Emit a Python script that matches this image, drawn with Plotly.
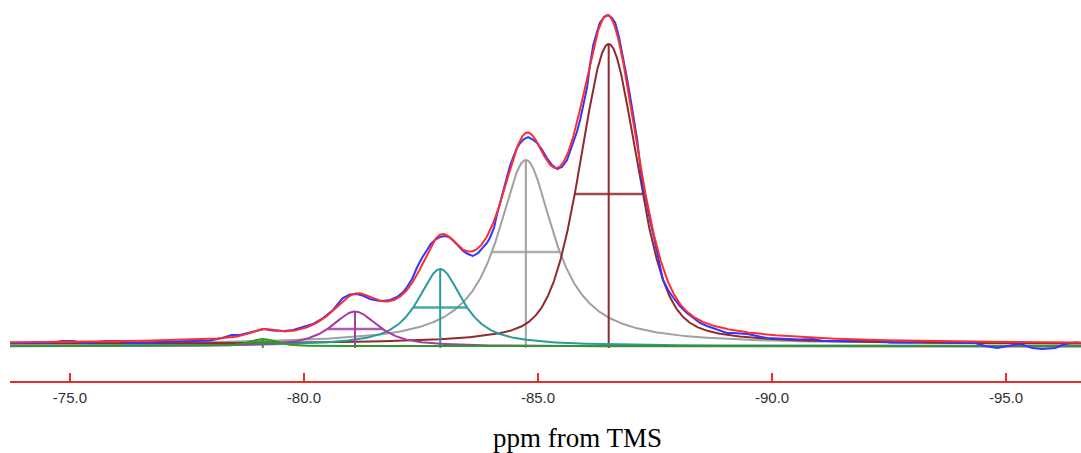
import numpy as np
import plotly.graph_objects as go

# ---------------- data ----------------
# Fitted components (ppm from TMS, intensity in arbitrary units)
peak_centers = [-79.12, -81.09, -82.91, -84.74, -86.51]
peak_heights = [7, 35, 77, 184, 300]
peak_fwhm = [0.64, 1.18, 1.15, 1.45, 1.45]
peak_lorentz_frac = [0.5, 0.8, 0.9, 1.0, 0.4]
peak_baseline = [-2.0, -2.5, -2.0, 0.0, 0.0]
peak_colors = ["#2e9a2e", "#a43ea4", "#2b9a9a", "#a0a0a0", "#8e2b2b"]

# Experimental spectrum (blue)
exp_ppm = [-73.72, -74.57, -74.83, -75.06, -75.32, -75.81, -76.03, -76.24, -76.92, -77.52,
           -77.99, -78.25, -78.46, -78.63, -78.80, -79.00, -79.15, -79.32, -79.59, -79.77,
           -79.91, -80.19, -80.41, -80.62, -80.83, -80.98, -81.13, -81.28, -81.41, -81.56,
           -81.69, -81.84, -81.99, -82.12, -82.20, -82.31, -82.41, -82.52, -82.63, -82.71,
           -82.80, -82.91, -83.01, -83.10, -83.18, -83.29, -83.40, -83.50, -83.61, -83.72,
           -83.82, -83.91, -83.97, -84.06, -84.12, -84.23, -84.34, -84.40, -84.47, -84.55,
           -84.62, -84.70, -84.79, -84.87, -84.98, -85.09, -85.19, -85.30, -85.41, -85.51,
           -85.62, -85.68, -85.75, -85.83, -85.90, -85.98, -86.05, -86.11, -86.18, -86.26,
           -86.32, -86.41, -86.50, -86.58, -86.65, -86.73, -86.82, -86.90, -86.97, -87.05,
           -87.12, -87.18, -87.24, -87.33, -87.39, -87.48, -87.54, -87.61, -87.67, -87.78,
           -87.88, -88.03, -88.18, -88.31, -88.46, -88.61, -88.74, -88.89, -89.04, -89.17,
           -89.47, -89.68, -89.89, -90.11, -90.32, -90.60, -90.88, -91.09, -91.60, -91.94,
           -92.24, -92.52, -92.95, -93.38, -93.80, -94.34, -94.55, -94.81, -95.04, -95.30,
           -95.56, -95.77, -96.05, -96.26, -96.47, -96.60]
exp_intensity = [1, 1, 3, 3, 1, 3, 3, 1, 2, 3,
                 3.5, 6, 9, 9, 11, 13, 15, 13.5, 13, 14,
                 16, 20, 26, 34, 46, 49.5, 50, 48, 45, 43.5,
                 43, 44, 47, 52, 57, 65, 76, 86, 94, 100,
                 104, 107, 108, 107, 104, 99, 93, 90, 88, 91,
                 96, 101, 106, 116, 129, 148, 166, 178, 187, 196,
                 201, 205, 207, 205, 201, 194, 186, 179, 175, 177,
                 184, 192, 201, 212, 224, 241, 257, 279, 299, 312,
                 321, 327, 329, 326, 321, 307, 287, 266, 247, 224,
                 204, 179, 157, 139, 124, 106, 91, 77, 64, 54,
                 47, 38, 31, 26, 21, 18, 16, 13.5, 11, 11,
                 10, 8, 6, 5.5, 5, 4.5, 5, 3, 3, 4,
                 3.5, 1.5, 1.5, 3, 1.5, 1, -2, -4, -2, 0,
                 -4, -5, -4, 0, 1.5, 1]

tick_values = [-75, -80, -85, -90, -95]
tick_labels = ["-75.0", "-80.0", "-85.0", "-90.0", "-95.0"]
x_range = [-73.72, -96.60]
y_range = [-37, 344]
axis_title = "ppm from TMS"

# ---------------- model line shapes ----------------
grid = np.linspace(x_range[0], x_range[1], 2400)


def pseudo_voigt(x, c, h, w, eta):
    u = (x - c) / w
    gauss = np.exp(-4 * np.log(2) * u ** 2)
    lor = 1.0 / (1.0 + 4 * u ** 2)
    return h * (eta * lor + (1 - eta) * gauss)


components = [pseudo_voigt(grid, c, h, w, e)
              for c, h, w, e in zip(peak_centers, peak_heights, peak_fwhm, peak_lorentz_frac)]
fit_sum = np.sum(components, axis=0)

fig = go.Figure()

draw_order = [3, 4, 2, 1, 0]
for i in draw_order:
    c, h, w, col, b = peak_centers[i], peak_heights[i], peak_fwhm[i], peak_colors[i], peak_baseline[i]
    fig.add_trace(go.Scatter(x=grid, y=components[i] + b, mode="lines",
                             line=dict(color=col, width=2), hoverinfo="skip", showlegend=False))
    # centre marker
    fig.add_trace(go.Scatter(x=[c, c], y=[-4, h + b], mode="lines",
                             line=dict(color=col, width=2), hoverinfo="skip", showlegend=False))
    # half-height width marker
    fig.add_trace(go.Scatter(x=[c - w / 2, c + w / 2], y=[h / 2 + b, h / 2 + b], mode="lines",
                             line=dict(color=col, width=2.5), opacity=0.85,
                             hoverinfo="skip", showlegend=False))

fig.add_trace(go.Scatter(x=exp_ppm, y=exp_intensity, mode="lines",
                         line=dict(color="#3535ff", width=2), showlegend=False))
fig.add_trace(go.Scatter(x=grid, y=fit_sum, mode="lines",
                         line=dict(color="#ff2e2e", width=2), showlegend=False))

fig.update_layout(
    width=1081, height=453,
    margin=dict(l=10, r=0, t=0, b=72),
    paper_bgcolor="white", plot_bgcolor="white",
    showlegend=False,
    xaxis=dict(range=x_range, tickvals=tick_values, ticktext=tick_labels,
               showgrid=False, zeroline=False,
               showline=True, linecolor="#ee2a2a", linewidth=2,
               ticks="inside", ticklen=8, tickwidth=2, tickcolor="#ee2a2a",
               tickfont=dict(family="Liberation Sans, Arial", size=15, color="#333333"),
               ticklabelstandoff=2),
    yaxis=dict(range=y_range, visible=False),
    annotations=[dict(text=axis_title, xref="paper", yref="paper", x=0.530, y=-0.150,
                      xanchor="center", yanchor="middle", showarrow=False,
                      font=dict(family="Liberation Serif, Times New Roman", size=27, color="black"))],
)

fig.write_html("out.html")
